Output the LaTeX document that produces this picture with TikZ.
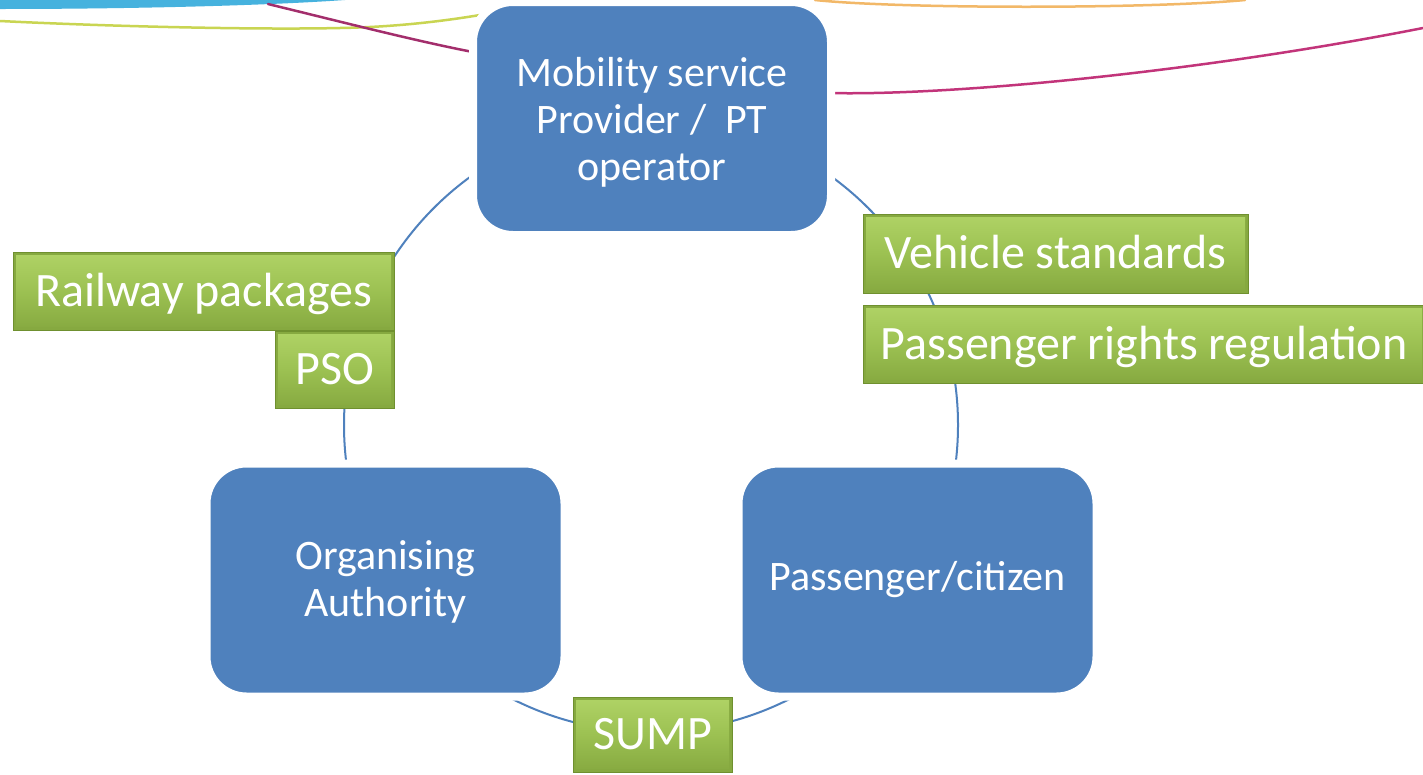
\documentclass[tikz,border=0pt]{standalone}
\usepackage{fontspec}
\setmainfont{Carlito}
\definecolor{bluebox}{HTML}{4F81BD}
\definecolor{arcblue}{HTML}{4F81BD}
\definecolor{gedge}{HTML}{6F902F}
\definecolor{gtop}{HTML}{B0D366}
\definecolor{gmid}{HTML}{9CC152}
\definecolor{gbot}{HTML}{86A940}
\definecolor{decocyan}{HTML}{46B2DE}
\definecolor{decoyel}{HTML}{C9D552}
\definecolor{decomag}{HTML}{A32E6C}
\definecolor{decomag2}{HTML}{C2347A}
\definecolor{decoorange}{HTML}{F2B868}
\begin{document}
\begin{tikzpicture}[x=1pt,y=-1pt,
  bluebox/.style={rectangle, rounded corners=40pt, fill=bluebox, draw=white, line width=8pt,
    minimum width=358pt, minimum height=233pt, inner sep=0pt, align=center, text=white,
    font=\fontsize{42}{47}\selectfont},
  greenbox/.style={rectangle, fill=gbot, draw=gedge, line width=1pt, inner sep=0pt,
    text=white, font=\fontsize{48}{56}\selectfont, text height=34pt, text depth=4pt,
    path picture={\shade[top color=gtop, bottom color=gbot, middle color=gmid]
      ([shift={(3pt,-3pt)}]path picture bounding box.north west) rectangle
      ([shift={(-3pt,4pt)}]path picture bounding box.south east);}},
  ring/.style={draw=arcblue, line width=2pt},
  deco/.style={line width=2.5pt, line cap=round}]
\useasboundingbox (0,0) rectangle (1423,774);
\fill[white] (0,0) rectangle (1423,774);
% decorative swooshes at top
\fill[decocyan] (0,0) -- (0,9) .. controls (120,9) and (260,6) .. (345,0) -- cycle;
\draw[deco, decoyel] (0,21) .. controls (100,26) and (250,30) .. (340,28) .. controls (400,27) and (450,20) .. (480,15);
\draw[deco, decoorange] (815,0) .. controls (900,9) and (1150,9) .. (1245,0);
\draw[deco, decomag] (268,4) .. controls (350,24) and (420,42) .. (478,53);
\draw[deco, decomag2] (828,93) .. controls (950,96) and (1200,72) .. (1423,28);
% ring
\coordinate (c) at (651,425);
\draw[ring] (c) circle[radius=307pt];
% main boxes
\node[bluebox] (mob) at (652,118.5) {\parbox{340pt}{\centering\vspace*{7pt}Mobility service\\Provider /\ \ PT\\operator}};
\node[bluebox] (org) at (385.5,580) {\parbox{340pt}{\centering\vspace*{4pt}Organising\\Authority}};
\node[bluebox] (pas) at (917.5,580) {Passenger/citizen};
% green labels
\node[greenbox, minimum width=381pt, minimum height=78pt] (rail) at (203.5,291) {Railway packages};
\node[greenbox, minimum width=119pt, minimum height=77pt] (pso) at (334.5,369.5) {PSO};
\node[greenbox, minimum width=385pt, minimum height=79pt] (veh) at (1055.5,253.5) {Vehicle standards};
\node[greenbox, minimum width=562pt, minimum height=78pt] (prr) at (1144,344) {Passenger rights regulation};
\node[greenbox, minimum width=159pt, minimum height=75pt] (sump) at (652.5,734.5) {SUMP};
\end{tikzpicture}
\end{document}
